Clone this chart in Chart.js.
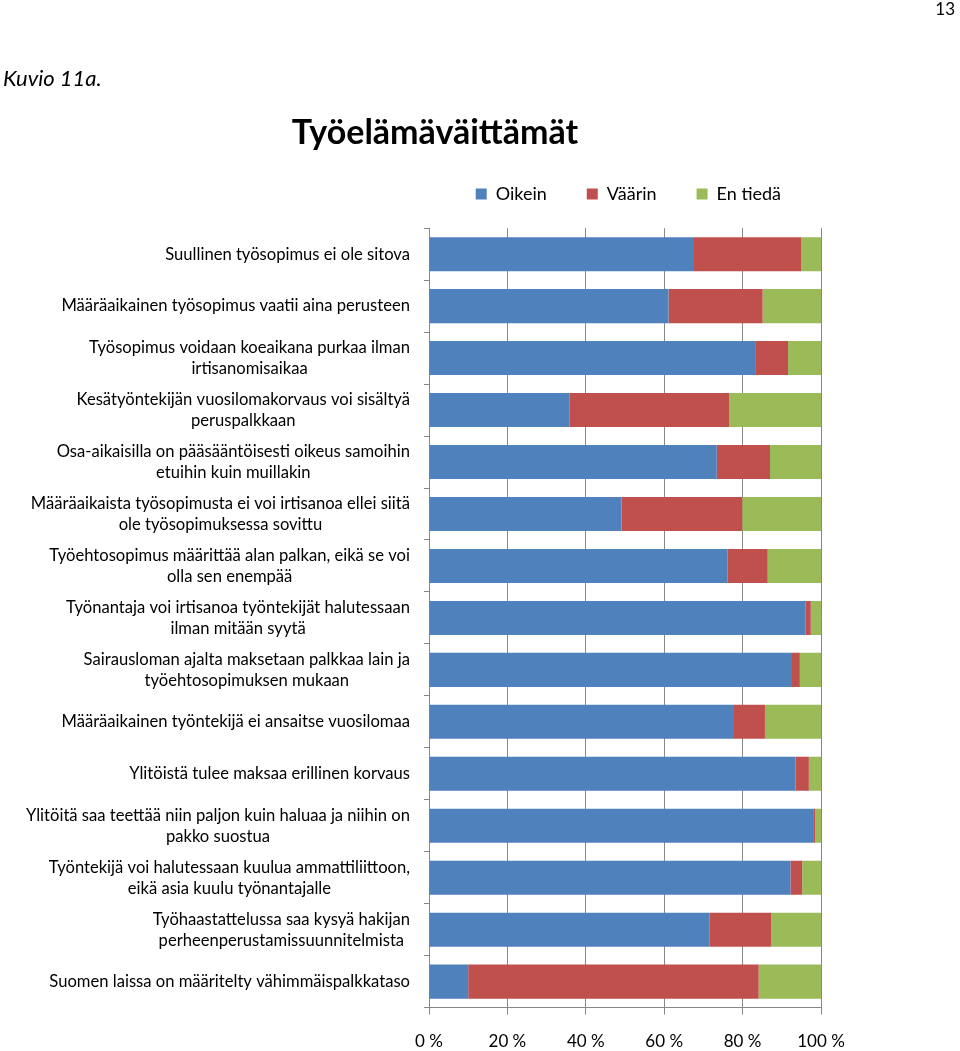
<!DOCTYPE html>
<html>
<head>
<meta charset="utf-8">
<title>Työelämäväittämät</title>
<script src="https://cdn.jsdelivr.net/npm/chart.js@4"></script>
<style>
  body { margin: 0; background: #fff; font-family: Lato, "Open Sans", sans-serif; }
  #page { position: relative; width: 960px; height: 1051px; overflow: hidden; }
  #myChart { position: absolute; left: 0; top: 0; }
  .pagenum { position: absolute; right: 5px; top: -2px; font-size: 17px; color: #000; }
  .kuvio { position: absolute; left: 3px; top: 64px; font-size: 22px; font-style: italic; color: #000; }
  .otsikko { position: absolute; left: 0; width: 870px; top: 110px; text-align: center; font-size: 34px; font-weight: bold; color: #000; }
</style>
</head>
<body>
<div id="page">
  <canvas id="myChart" width="960" height="1051"></canvas>
  <div class="pagenum">13</div>
  <div class="kuvio">Kuvio 11a.</div>
  <div class="otsikko">Työelämäväittämät</div>
</div>
<script>
// vaittamat (kategoriat), rivit ylhaalta alas
var vaittamat = [
	["Suullinen työsopimus ei ole sitova"],
	["Määräaikainen työsopimus vaatii aina perusteen"],
	["Työsopimus voidaan koeaikana purkaa ilman", "irtisanomisaikaa"],
	["Kesätyöntekijän vuosilomakorvaus voi sisältyä", "peruspalkkaan"],
	["Osa-aikaisilla on pääsääntöisesti oikeus samoihin", "etuihin kuin muillakin"],
	["Määräaikaista työsopimusta ei voi irtisanoa ellei siitä", "ole työsopimuksessa sovittu"],
	["Työehtosopimus määrittää alan palkan, eikä se voi", "olla sen enempää"],
	["Työnantaja voi irtisanoa työntekijät halutessaan", "ilman mitään syytä"],
	["Sairausloman ajalta maksetaan palkkaa lain ja", "työehtosopimuksen mukaan"],
	["Määräaikainen työntekijä ei ansaitse vuosilomaa"],
	["Ylitöistä tulee maksaa erillinen korvaus"],
	["Ylitöitä saa teettää niin paljon kuin haluaa ja niihin on", "pakko suostua"],
	["Työntekijä voi halutessaan kuulua ammattiliittoon,", "eikä asia kuulu työnantajalle"],
	["Työhaastattelussa saa kysyä hakijan", "perheenperustamissuunnitelmista"],
	["Suomen laissa on määritelty vähimmäispalkkataso"]
];

// osuudet prosentteina
var oikein  = [67.6, 61.1, 83.4, 35.8, 73.4, 49.1, 76.2, 96.1, 92.6, 77.8, 93.5, 98.0, 92.2, 71.6, 10.0];
var vaarin  = [27.3, 24.0,  8.2, 40.8, 13.6, 30.8, 10.2,  1.3,  2.0,  7.9,  3.4,  0.5,  3.0, 15.7, 74.1];
var entieda = [ 5.1, 14.9,  8.4, 23.4, 13.0, 20.1, 13.6,  2.6,  5.4, 14.3,  3.1,  1.5,  4.8, 12.7, 15.9];

var xTicks = [0, 20, 40, 60, 80, 100];

var fontti = "Lato";
var harmaa = "#878787";

// y-akselin tekstit: rivit keskitetty keskenaan, lohko oikealle
var vaittamaPlugin = {
	id: 'vaittamat',
	afterDraw: function(chart){
		var c = chart.ctx;
		var y = chart.scales.y;
		var oikeaReuna = y.right - 19;
		var rivi = 21;
		c.save();
		c.font = "16.6px " + fontti;
		c.fillStyle = "#000";
		c.textAlign = "center";
		c.textBaseline = "middle";
		vaittamat.forEach(function(rivit, i){
			var leveys = 0;
			rivit.forEach(function(r){ leveys = Math.max(leveys, c.measureText(r).width); });
			var cx = oikeaReuna - leveys / 2;
			var cy = y.getPixelForValue(i) - (rivit.length - 1) * rivi / 2;
			rivit.forEach(function(r, k){
				c.fillText(r, cx, cy + k * rivi);
			});
		});
		c.restore();
	}
};

var ctx = document.getElementById("myChart");
var myChart = new Chart(ctx, {
	type: 'bar',
	data: {
		labels: vaittamat,
		datasets: [{
			label: 'Oikein',
			data: oikein,
			backgroundColor: '#4F81BD'
		},{
			label: 'Väärin',
			data: vaarin,
			backgroundColor: '#C0504D'
		},{
			label: 'En tiedä',
			data: entieda,
			backgroundColor: '#9BBB59'
		}]
	},
	options: {
		indexAxis: 'y',
		responsive: false,
		animation: false,
		layout: {
			padding: { top: 145, right: 139, left: 0, bottom: -18 }
		},
		datasets: {
			bar: { barPercentage: 0.655, categoryPercentage: 1.0, borderWidth: 0 }
		},
		scales: {
			x: {
				stacked: true,
				min: 0,
				max: 100,
				afterBuildTicks: function(scale){
					scale.ticks = xTicks.map(function(v){ return { value: v }; });
				},
				ticks: {
					font: { family: fontti, size: 17 },
					color: "#000",
					padding: 17,
					maxRotation: 0,
					callback: function(v){ return v + " %"; }
				},
				grid: { color: harmaa, tickLength: 7 },
				border: { color: harmaa }
			},
			y: {
				stacked: true,
				afterFit: function(scale){ scale.width = 429; },
				ticks: { display: false },
				grid: { drawOnChartArea: false, color: harmaa, tickLength: 5, offset: true },
				border: { color: harmaa }
			}
		},
		plugins: {
			legend: {
				position: 'top',
				align: 'end',
				labels: {
					boxWidth: 11,
					boxHeight: 11,
					padding: 40,
					color: "#000",
					font: { family: fontti, size: 18 }
				}
			},
			// tyhja vali selitteen ja kuvaajan valiin
			subtitle: {
				display: true,
				text: ' ',
				weight: 500,
				fullSize: false,
				font: { size: 1 },
				padding: { top: 0, bottom: 14 }
			},
			tooltip: { enabled: false }
		}
	},
	plugins: [vaittamaPlugin]
});
</script>
</body>
</html>
